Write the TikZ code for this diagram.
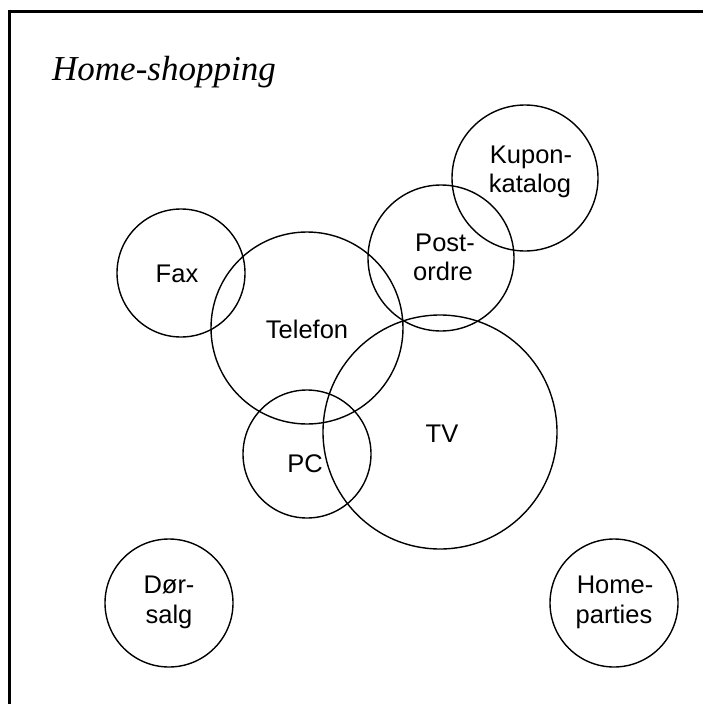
\documentclass[tikz,border=0pt]{standalone}
\usepackage{fontspec}
\setmainfont{Liberation Serif}
\newfontfamily\lblfont{Liberation Sans}
\begin{document}
\begin{tikzpicture}[x=1pt,y=-1pt,
  ring/.style={circle,draw,line width=1.4pt,inner sep=0pt,minimum size=#1},
  lbl/.style={anchor=base,inner sep=0pt,font=\lblfont\fontsize{25.5}{30}\selectfont}]
\useasboundingbox (0,0) rectangle (702,704);
% frame
\draw[line width=3pt] (9,720) -- (9,11) -- (720,11);
% title
\node[anchor=base west,inner sep=0pt,font=\itshape\fontsize{35}{40}\selectfont] (title) at (52,80) {Home-shopping};
% circles
\node[ring=128pt] (fax) at (181,273) {};
\node[ring=192pt] (tel) at (307,328) {};
\node[ring=146pt] (post) at (441,258) {};
\node[ring=146pt] (kupon) at (525,178) {};
\node[ring=234pt] (tv) at (440,432) {};
\node[ring=128pt] (pc) at (307,454) {};
\node[ring=128pt] (dor) at (169,603) {};
\node[ring=128pt] (home) at (614,603) {};
% labels
\node[lbl] (faxl) at (177,282) {Fax};
\node[lbl] (tell) at (307,338) {Telefon};
\node[lbl] (postl1) at (445,251) {Post-};
\node[lbl] (postl2) at (443,280) {ordre};
\node[lbl] (kuponl1) at (531,163) {Kupon-};
\node[lbl] (kuponl2) at (530,192) {katalog};
\node[lbl] (tvl) at (442,442) {TV};
\node[lbl] (pcl) at (305,472) {PC};
\node[lbl] (dorl1) at (169,593) {Dør-};
\node[lbl] (dorl2) at (169,623) {salg};
\node[lbl] (homel1) at (615,593) {Home-};
\node[lbl] (homel2) at (614,623) {parties};
\end{tikzpicture}
\end{document}
